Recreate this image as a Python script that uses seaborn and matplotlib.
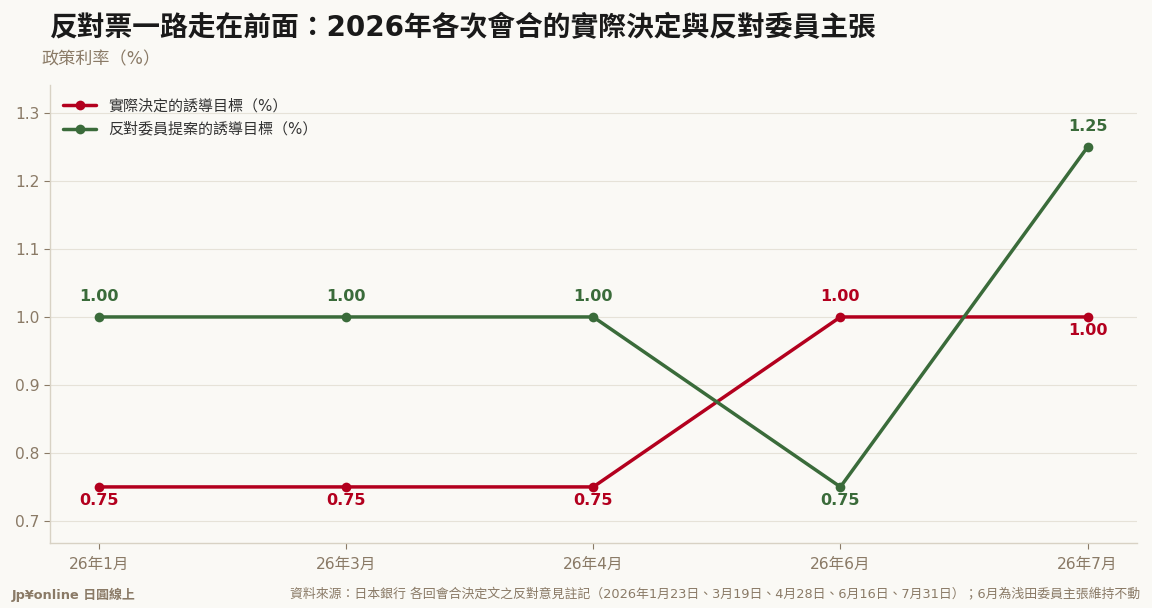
import matplotlib
matplotlib.use("Agg")
import matplotlib.pyplot as plt
import seaborn as sns
import pandas as pd

months = ["26年1月", "26年3月", "26年4月", "26年6月", "26年7月"]
actual = [0.75, 0.75, 0.75, 1.00, 1.00]
dissent = [1.00, 1.00, 1.00, 0.75, 1.25]

RED = "#B3001E"
GREEN = "#3A6B3A"
BG = "#FAF9F5"
TXT = "#8A7A66"

sns.set_theme(style="white")
plt.rcParams["font.family"] = ["DejaVu Sans", "Noto Sans CJK TC"]

df = pd.DataFrame({"x": range(len(months)), "actual": actual, "dissent": dissent})

fig = plt.figure(figsize=(11.52, 6.08), dpi=100, facecolor=BG)
ax = fig.add_axes([0.0434, 0.107, 0.9436, 0.753])
ax.set_facecolor(BG)

sns.lineplot(data=df, x="x", y="actual", ax=ax, color=RED, lw=2.5, marker="o",
             markersize=7, markeredgewidth=0, label="實際決定的誘導目標（%）")
sns.lineplot(data=df, x="x", y="dissent", ax=ax, color=GREEN, lw=2.5, marker="o",
             markersize=7, markeredgewidth=0, label="反對委員提案的誘導目標（%）")

# value labels
for i, (a, d) in enumerate(zip(actual, dissent)):
    a_above = a > d and i < len(months) - 1
    ax.annotate(f"{a:.2f}", (i, a), xytext=(0, 15 if a_above else -9.5),
                textcoords="offset points", ha="center", va="center",
                color=RED, fontsize=11.5, fontweight="bold")
    d_above = d >= a
    ax.annotate(f"{d:.2f}", (i, d), xytext=(0, 15 if d_above else -9.5),
                textcoords="offset points", ha="center", va="center",
                color=GREEN, fontsize=11.5, fontweight="bold")

ax.set_xlim(-0.198, 4.2)
ax.set_ylim(0.6676, 1.341)
ax.set_xticks(range(len(months)))
ax.set_xticklabels(months)
ax.set_yticks([0.7, 0.8, 0.9, 1.0, 1.1, 1.2, 1.3])
ax.set_xlabel("")
ax.set_ylabel("")
ax.yaxis.grid(True, color="#E6E2D8", lw=0.8)
ax.xaxis.grid(False)
for s in ["top", "right"]:
    ax.spines[s].set_visible(False)
for s in ["left", "bottom"]:
    ax.spines[s].set_color("#D8D2C4")
    ax.spines[s].set_linewidth(1)
ax.tick_params(axis="both", colors=TXT, labelsize=11.2, length=4, width=0.8,
               labelcolor=TXT, bottom=True, left=True)
ax.tick_params(axis="x", pad=6)

leg = ax.legend(loc="upper left", frameon=False, fontsize=10.8, handlelength=2.2,
                borderaxespad=0.5, labelspacing=0.55)
for t in leg.get_texts():
    t.set_color("#333333")

fig.text(0.043, 0.953, "反對票一路走在前面：2026年各次會合的實際決定與反對委員主張",
         fontsize=20, fontweight="bold", color="#1A1A1A", ha="left", va="center")
fig.text(0.036, 0.902, "政策利率（%）", fontsize=12.3, color=TXT, ha="left", va="center")
fig.text(0.01, 0.022, "Jp¥online 日圓線上", fontsize=9.3, fontweight="bold",
         color=TXT, ha="left", va="center")
fig.text(0.99, 0.022,
         "資料來源：日本銀行 各回會合決定文之反對意見註記（2026年1月23日、3月19日、4月28日、6月16日、7月31日）；6月為浅田委員主張維持不動",
         fontsize=9.3, color=TXT, ha="right", va="center")

fig.savefig("out.png", dpi=100, facecolor=BG)
